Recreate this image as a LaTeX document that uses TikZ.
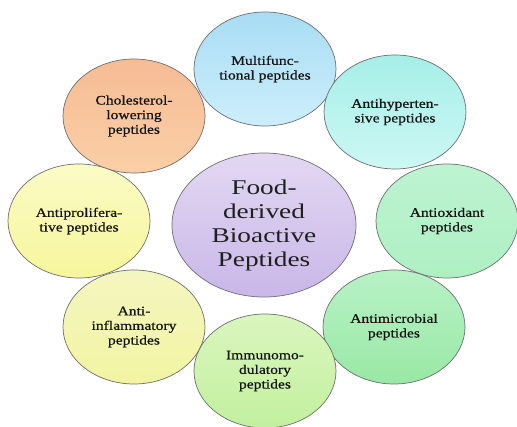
\documentclass[tikz,border=0pt]{standalone}
\usepackage{fontspec}
\setmainfont{Liberation Serif}[FakeStretch=1.22]
\newfontfamily\smallfont{Liberation Serif}[FakeStretch=1.2,FakeBold=0.7]
\newfontfamily\bigfont{Liberation Serif}[FakeStretch=1.3]
\usetikzlibrary{shapes.geometric}
\definecolor{bdr}{HTML}{6E6E6E}
\definecolor{blueT}{HTML}{A8DDF4}\definecolor{blueB}{HTML}{CDEEFB}
\definecolor{peachT}{HTML}{F6BC96}\definecolor{peachB}{HTML}{FBCFA6}
\definecolor{cyanT}{HTML}{A6EEE8}\definecolor{cyanB}{HTML}{CDF8F4}
\definecolor{mintT}{HTML}{BDF3D2}\definecolor{mintB}{HTML}{AEF0C2}
\definecolor{grnT}{HTML}{B8F2C6}\definecolor{grnB}{HTML}{98E8A4}
\definecolor{limeT}{HTML}{DAF6BE}\definecolor{limeB}{HTML}{C2F09E}
\definecolor{ylwT}{HTML}{F4F6C0}\definecolor{ylwB}{HTML}{F2F4A2}
\definecolor{ylw2T}{HTML}{FBFBC6}\definecolor{ylw2B}{HTML}{F6F69C}
\definecolor{lavT}{HTML}{E2D8F2}\definecolor{lavB}{HTML}{C9B7E8}
\tikzset{
  pep/.style={ellipse, draw=bdr, line width=0.7pt, minimum width=142pt,
    minimum height=114pt, inner sep=0pt, align=center,
    font=\smallfont\fontsize{13}{14.6}\selectfont, text=black!92},
  hub/.style={ellipse, draw=bdr, line width=0.7pt, minimum width=184pt,
    minimum height=144pt, inner sep=0pt, align=center,
    font=\bigfont\fontsize{21}{24}\selectfont, text=black!88},
}
\begin{document}
\begin{tikzpicture}[x=1pt,y=-1pt]
\useasboundingbox (0,0) rectangle (517,427);
\node[pep, top color=peachT, bottom color=peachB] (chol) at (134,116) {Cholesterol-\\lowering\\peptides};
\node[pep, top color=ylw2T, bottom color=ylw2B] (prolif) at (79,221) {Antiprolifera-\\tive peptides};
\node[pep, top color=ylwT, bottom color=ylwB] (inflam) at (134,327) {Anti-\\inflammatory\\peptides};
\node[pep, top color=blueT, bottom color=blueB] (multi) at (265,69) {Multifunc-\\tional peptides};
\node[pep, top color=cyanT, bottom color=cyanB] (hyper) at (395,112) {Antihyperten-\\sive peptides};
\node[pep, top color=mintT, bottom color=mintB] (oxid) at (447,221) {Antioxidant\\peptides};
\node[pep, top color=grnT, bottom color=grnB] (micro) at (394,327) {Antimicrobial\\peptides};
\node[pep, top color=limeT, bottom color=limeB] (immuno) at (265,371) {Immunomo-\\dulatory\\peptides};
\node[hub, top color=lavT, bottom color=lavB] (hub) at (264,225) {Food-\\derived\\Bioactive\\Peptides};
\end{tikzpicture}
\end{document}
